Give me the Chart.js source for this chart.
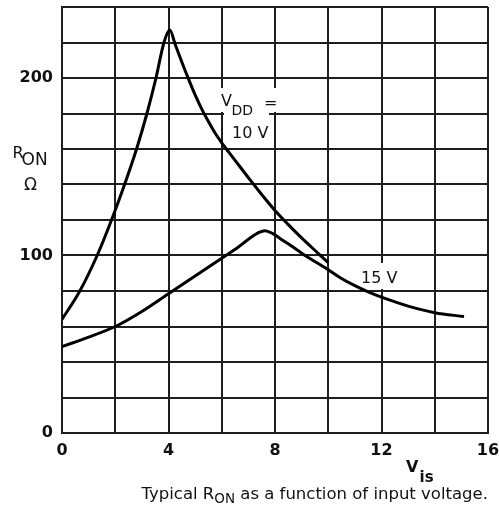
<!DOCTYPE html>
<html>
<head>
<meta charset="utf-8">
<script src="https://cdn.jsdelivr.net/npm/chart.js@4"></script>
<style>
  html, body { margin: 0; padding: 0; background: #fff; }
  #wrap { width: 499px; height: 519px; }
</style>
</head>
<body>
<div id="wrap"><canvas id="chart" width="499" height="519"></canvas></div>
<script>
// VDD = 10 V curve
const vis10 = [0, 0.67, 1.32, 1.86, 2.35, 2.8, 3.19, 3.53, 3.83, 4.05, 4.25, 4.5, 4.75, 5.0, 5.25, 5.5, 5.75, 6.0, 6.25, 6.65, 7.08, 7.44, 8, 8.5, 9, 9.63, 10];
const ron10 = [64, 80, 100, 120, 140, 160, 180, 200, 220, 227, 219, 209, 199.5, 190.5, 182.5, 175.5, 169, 163.5, 158.5, 150.7, 142.3, 135.5, 125.4, 117.4, 109.9, 101.1, 95.9];

// VDD = 15 V curve
const vis15 = [0, 1, 2, 3, 4, 5, 6, 6.6, 7.08, 7.4, 7.62, 7.9, 8.2, 8.82, 9.13, 10, 10.45, 11, 11.5, 12, 13, 14, 15.1];
const ron15 = [48.7, 54, 60, 68.5, 78.5, 88.5, 98.5, 104.5, 110, 113, 114, 112.5, 109.5, 103.3, 100, 92, 87.5, 83, 79.5, 76.5, 71.5, 67.8, 65.6];

const xTickLabels = [0, 4, 8, 12, 16];
const yTickLabels = [0, 100, 200];

const ink = '#111';
const gridColor = '#1e1e1e';

function toPoints(xs, ys) {
  return xs.map((x, i) => ({ x: x, y: ys[i] }));
}

function txt(ctx, s, x, y, font, align) {
  ctx.font = font;
  ctx.textAlign = align || 'left';
  ctx.textBaseline = 'alphabetic';
  ctx.fillText(s, x, y);
}

// white boxes behind the curve labels, then all the text
const labels = {
  id: 'labels',
  beforeDatasetsDraw(chart) {
    const ctx = chart.ctx;
    ctx.save();
    ctx.fillStyle = '#fff';
    ctx.fillRect(217, 88, 60, 24);
    ctx.fillRect(224, 111.5, 45, 30);
    ctx.fillRect(357, 263, 46, 26);
    ctx.restore();
  },
  afterDraw(chart) {
    const ctx = chart.ctx;
    const f = '"DejaVu Sans", sans-serif';
    ctx.save();
    ctx.fillStyle = ink;
    // curve labels
    txt(ctx, 'V', 221, 105.5, '16px ' + f);
    txt(ctx, 'DD', 231.5, 115, '14px ' + f);
    txt(ctx, '=', 264, 108, '16px ' + f);
    txt(ctx, '10 V', 232, 138.3, '16px ' + f);
    txt(ctx, '15 V', 361, 283.3, '16px ' + f);
    // axis titles
    txt(ctx, 'R', 12.5, 158.3, '16px ' + f);
    txt(ctx, 'ON', 21.5, 165, '17px ' + f);
    txt(ctx, 'Ω', 30.5, 190, '17px ' + f, 'center');
    txt(ctx, 'V', 406, 471.7, 'bold 16px ' + f);
    txt(ctx, 'is', 419.5, 481.7, 'bold 15px ' + f);
    // caption
    let x = 141.5;
    txt(ctx, 'Typical R', x, 499.3, '16.5px ' + f);
    x += ctx.measureText('Typical R').width;
    txt(ctx, 'ON', x, 503, '13.5px ' + f);
    x += ctx.measureText('ON').width;
    txt(ctx, ' as a function of input voltage.', x, 499.3, '16.5px ' + f);
    ctx.restore();
  }
};

new Chart(document.getElementById('chart'), {
  type: 'line',
  data: {
    datasets: [
      {
        label: 'VDD = 10 V',
        data: toPoints(vis10, ron10),
        borderColor: '#000',
        borderWidth: 3,
        pointRadius: 0,
        cubicInterpolationMode: 'monotone',
        fill: false,
      },
      {
        label: 'VDD = 15 V',
        data: toPoints(vis15, ron15),
        borderColor: '#000',
        borderWidth: 3,
        pointRadius: 0,
        cubicInterpolationMode: 'monotone',
        fill: false,
      }
    ]
  },
  options: {
    responsive: false,
    animation: false,
    layout: { padding: { top: 7, right: 11, bottom: 0, left: 0 } },
    plugins: {
      legend: { display: false },
      tooltip: { enabled: false }
    },
    scales: {
      x: {
        type: 'linear',
        min: 0,
        max: 16,
        afterFit: s => {
          s.height = 86;
          s.paddingLeft = 0;
          s.paddingRight = 0;
        },
        border: { display: true, color: gridColor, width: 2 },
        grid: { color: gridColor, lineWidth: 2, drawTicks: false },
        ticks: {
          stepSize: 2,
          padding: 8,
          color: ink,
          font: { family: 'DejaVu Sans', size: 16, weight: 'bold' },
          maxRotation: 0,
          autoSkip: false,
          callback: v => xTickLabels.includes(v) ? String(v) : ''
        }
      },
      y: {
        min: 0,
        max: 240,
        afterFit: s => {
          s.width = 62;
          s.paddingTop = 0;
          s.paddingBottom = 0;
        },
        border: { display: true, color: gridColor, width: 2 },
        grid: { color: gridColor, lineWidth: 2, drawTicks: false },
        ticks: {
          stepSize: 20,
          padding: 9,
          color: ink,
          font: { family: 'DejaVu Sans', size: 16, weight: 'bold' },
          autoSkip: false,
          callback: v => yTickLabels.includes(v) ? String(v) : ''
        }
      }
    }
  },
  plugins: [labels]
});
</script>
</body>
</html>
